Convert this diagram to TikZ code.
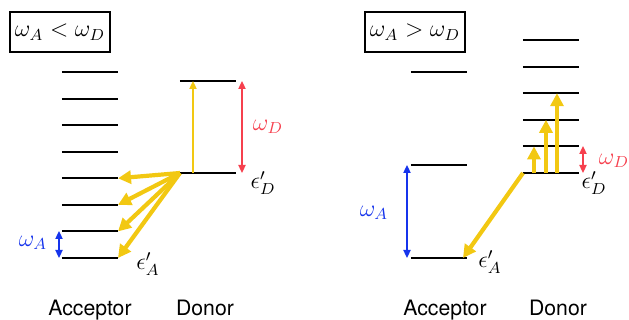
\documentclass[tikz,border=0pt]{standalone}
\usepackage{fontspec}
\setsansfont{TeX Gyre Heros}
\usetikzlibrary{arrows.meta}
\definecolor{hopyellow}{RGB}{242,200,18}
\definecolor{gapred}{RGB}{246,64,78}
\definecolor{gapblue}{RGB}{22,52,236}

\begin{document}
\begin{tikzpicture}[x=0.5pt,y=-0.5pt,
  level/.style={line width=1pt},
  hop/.style={hopyellow,line width=2.1pt,-{Triangle[length=6.5pt,width=6.5pt]}},
  lift/.style={hopyellow,line width=0.8pt,-{Triangle[length=4pt,width=3.6pt]}},
  gap/.style={line width=0.8pt,{Triangle[length=4pt,width=3.6pt]}-{Triangle[length=4pt,width=3.6pt]}},
  regime/.style={draw,line width=0.8pt,minimum width=50pt,minimum height=20pt,inner sep=0pt,font=\fontsize{12}{14}\selectfont},
  tag/.style={font=\fontsize{12}{14}\selectfont},
  side/.style={font=\sffamily\fontsize{10.6}{12}\selectfont,anchor=base}]
  \useasboundingbox (0,0) rectangle (629,320);

  % ---- Left panel: omega_A < omega_D ----
  \node[regime] (boxL) at (60,32) {$\omega_A < \omega_D$};
  % Acceptor ladder
  \foreach \i in {0,...,7} {
    \coordinate (la\i w) at (62,{258-26.57*\i});
    \coordinate (la\i e) at (118,{258-26.57*\i});
    \draw[level] (la\i w) -- (la\i e);
  }
  % Donor levels
  \coordinate (ld0w) at (180,173); \coordinate (ld0e) at (236,173);
  \coordinate (ld1w) at (180,81);  \coordinate (ld1e) at (236,81);
  \draw[level] (ld0w) -- (ld0e);
  \draw[level] (ld1w) -- (ld1e);
  % Excitation and gaps
  \coordinate (lup0) at (193,173); \coordinate (lup1) at (193,81);
  \draw[lift] (lup0) -- (lup1);
  \coordinate (lred0) at (242,173); \coordinate (lred1) at (242,81);
  \draw[gap,gapred] (lred0) -- (lred1);
  \coordinate (lblue0) at (59,258); \coordinate (lblue1) at (59,231);
  \draw[gap,gapblue] (lblue0) -- (lblue1);
  % Transfer to acceptor
  \foreach \i in {0,...,3}
    \draw[hop] (ld0w) -- (la\i e);
  % Labels
  \node[tag,text=gapred] (wDL) at (268,127) {$\omega_D$};
  \node[tag,text=gapblue] (wAL) at (33,243) {$\omega_A$};
  \node[tag] (eDL) at (263,183) {$\epsilon'_D$};
  \node[tag] (eAL) at (148,264) {$\epsilon'_A$};
  \node[side] (accL) at (90,316) {Acceptor};
  \node[side] (donL) at (205,316) {Donor};

  % ---- Right panel: omega_A > omega_D ----
  \node[regime] (boxR) at (415,32) {$\omega_A > \omega_D$};
  % Acceptor ladder
  \foreach \i in {0,...,2} {
    \coordinate (ra\i w) at (411,{258-93*\i});
    \coordinate (ra\i e) at (467,{258-93*\i});
    \draw[level] (ra\i w) -- (ra\i e);
  }
  % Donor ladder
  \foreach \i in {0,...,5} {
    \coordinate (rd\i w) at (523,{173-26.6*\i});
    \coordinate (rd\i e) at (579,{173-26.6*\i});
    \draw[level] (rd\i w) -- (rd\i e);
  }
  % Multiphonon excitation
  \foreach \i/\x in {1/534,2/546,3/557} {
    \coordinate (rup\i a) at (\x,173);
    \coordinate (rup\i b) at (\x,{173-26.6*\i});
    \draw[hop] (rup\i a) -- (rup\i b);
  }
  % Gaps
  \coordinate (rred0) at (583,173); \coordinate (rred1) at (583,146);
  \draw[gap,gapred] (rred0) -- (rred1);
  \coordinate (rblue0) at (407,258); \coordinate (rblue1) at (407,165);
  \draw[gap,gapblue] (rblue0) -- (rblue1);
  % Transfer to acceptor
  \coordinate (rhit) at (463,258);
  \draw[hop] (rd0w) -- (rhit);
  % Labels
  \node[tag,text=gapred] (wDR) at (614,161) {$\omega_D$};
  \node[tag,text=gapblue] (wAR) at (374,213) {$\omega_A$};
  \node[tag] (eDR) at (594,183) {$\epsilon'_D$};
  \node[tag] (eAR) at (490,262) {$\epsilon'_A$};
  \node[side] (accR) at (445,316) {Acceptor};
  \node[side] (donR) at (558,316) {Donor};
\end{tikzpicture}
\end{document}
